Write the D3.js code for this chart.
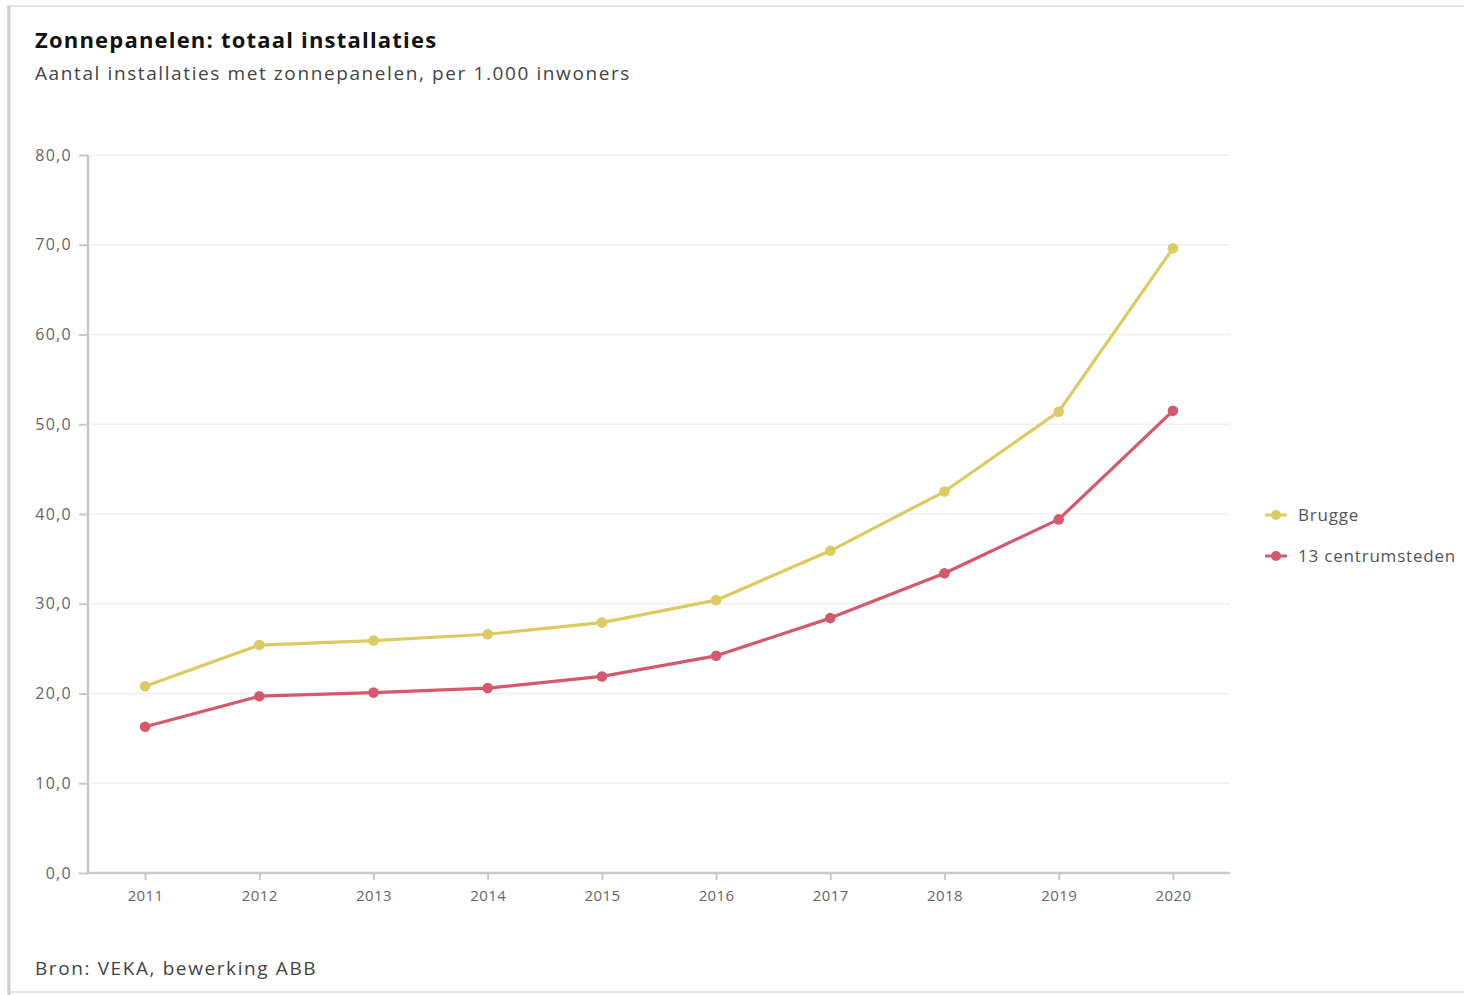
<!DOCTYPE html>
<html><head><meta charset="utf-8">
<script src="https://cdn.jsdelivr.net/npm/d3@7"></script>
<style>
html,body{margin:0;padding:0;background:#fff;}
svg{display:block;}
text{font-family:"Open Sans","Noto Sans",sans-serif;}
</style></head>
<body>
<svg id="chart" width="1464" height="995"></svg>
<script>
const years = ["2011","2012","2013","2014","2015","2016","2017","2018","2019","2020"];
const brugge = [20.8,25.4,25.9,26.6,27.9,30.4,35.9,42.5,51.4,69.6];
const centrumsteden = [16.3,19.7,20.1,20.6,21.9,24.2,28.4,33.4,39.4,51.5];
const yTicks = [0,10,20,30,40,50,60,70,80];
const seriesNames = ["Brugge","13 centrumsteden"];
const seriesColors = ["#dccb62","#d4596d"];

const svg = d3.select("#chart");

// card frame
svg.append("rect").attr("x",8).attr("y",6).attr("width",1470).attr("height",986)
  .attr("fill","#fff").attr("stroke","#e3e3e3").attr("stroke-width",2);
svg.append("line").attr("x1",9).attr("x2",9).attr("y1",6).attr("y2",995).attr("stroke","#cfcfcf").attr("stroke-width",3);

const x = d3.scalePoint().domain(years).range([88,1230]).padding(0.5);
const y = d3.scaleLinear().domain([0,80]).range([873,155]);

// grid
svg.append("g").selectAll("line").data(yTicks.filter(d=>d>0)).join("line")
  .attr("x1",90).attr("x2",1230).attr("y1",d=>y(d)).attr("y2",d=>y(d))
  .attr("stroke","#f0f0f0").attr("stroke-width",1.5);

// y axis
const yAxis = d3.axisLeft(y).tickValues(yTicks).tickSize(9).tickPadding(7)
  .tickFormat(d=>d3.format(".1f")(d).replace(".",","));
const gy = svg.append("g").attr("transform","translate(88,0)").call(yAxis);
gy.select(".domain").attr("stroke","#c8c8c8").attr("stroke-width",2.5).attr("d","M0,155V873");
gy.selectAll(".tick line").attr("stroke","#c8c8c8").attr("stroke-width",2);
gy.selectAll(".tick text").attr("fill","#666").style("font-size","16px").style("letter-spacing","1.3px");

// x axis
const xAxis = d3.axisBottom(x).tickSize(7).tickPadding(10);
const gx = svg.append("g").attr("transform","translate(0,873)").call(xAxis);
gx.select(".domain").attr("stroke","#c8c8c8").attr("stroke-width",2.5).attr("d","M88,0H1230");
gx.selectAll(".tick line").attr("stroke","#c8c8c8").attr("stroke-width",2);
gx.selectAll(".tick text").attr("fill","#666").style("font-size","15px").style("letter-spacing","0.4px");

const line = d3.line().x((d,i)=>x(years[i])).y(d=>y(d));
[brugge,centrumsteden].forEach((vals,si)=>{
  svg.append("path").datum(vals).attr("d",line).attr("fill","none")
    .attr("stroke",seriesColors[si]).attr("stroke-width",3.2).attr("stroke-linejoin","round");
  svg.append("g").selectAll("circle").data(vals).join("circle")
    .attr("cx",(d,i)=>x(years[i])).attr("cy",d=>y(d)).attr("r",5.3).attr("fill",seriesColors[si]);
});

// legend
const leg = svg.append("g").selectAll("g").data(seriesNames).join("g")
  .attr("transform",(d,i)=>`translate(1265,${515+i*41})`);
leg.append("line").attr("x1",0).attr("x2",22).attr("stroke",(d,i)=>seriesColors[i]).attr("stroke-width",3);
leg.append("circle").attr("cx",11).attr("r",5).attr("fill",(d,i)=>seriesColors[i]);
leg.append("text").attr("x",33).attr("y",6).text(d=>d).attr("fill","#555")
  .style("font-size","17px").style("letter-spacing","0.8px");

// titles
svg.append("text").attr("x",35).attr("y",48).text("Zonnepanelen: totaal installaties")
  .attr("fill","#111").style("font-size","22px").style("font-weight","bold").style("letter-spacing","1.2px");
svg.append("text").attr("x",35).attr("y",80).text("Aantal installaties met zonnepanelen, per 1.000 inwoners")
  .attr("fill","#444").style("font-size","19px").style("letter-spacing","1.6px");
svg.append("text").attr("x",35).attr("y",975).text("Bron: VEKA, bewerking ABB")
  .attr("fill","#444").style("font-size","19px").style("letter-spacing","1.6px");
</script>
</body></html>
